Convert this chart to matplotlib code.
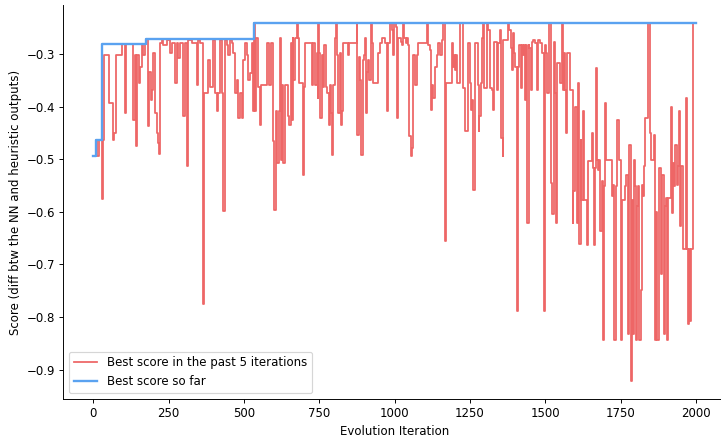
import matplotlib
matplotlib.use("Agg")
import matplotlib.pyplot as plt

# Best score in the past 5 iterations (change points, held until next point)
red_iter = [0, 9, 13, 18, 28, 31, 37, 53, 64, 70, 75, 94, 105, 108, 133, 138, 142, 146, 153, 155,
            160, 166, 170, 175, 180, 186, 190, 195, 199, 205, 210, 215, 218, 221, 227, 232, 243, 254, 260, 271,
            279, 282, 288, 299, 304, 310, 315, 326, 343, 349, 354, 363, 367, 382, 387, 398, 404, 409, 415, 420,
            426, 431, 437, 443, 448, 454, 459, 465, 470, 476, 481, 487, 492, 498, 503, 509, 514, 520, 525, 531,
            534, 537, 541, 548, 553, 557, 575, 584, 589, 595, 601, 606, 611, 615, 620, 622, 626, 631, 636, 647,
            651, 655, 658, 662, 664, 669, 675, 678, 684, 695, 699, 703, 725, 730, 736, 741, 745, 747, 750, 752,
            758, 761, 766, 772, 777, 781, 786, 789, 793, 797, 802, 805, 810, 813, 817, 821, 825, 830, 846, 850,
            874, 876, 881, 885, 888, 894, 898, 902, 905, 909, 913, 916, 920, 924, 927, 946, 951, 957, 968, 974,
            979, 985, 990, 996, 999, 1003, 1007, 1012, 1020, 1023, 1029, 1032, 1037, 1040, 1043, 1049, 1053, 1058, 1062, 1068,
            1073, 1079, 1106, 1112, 1117, 1121, 1124, 1128, 1134, 1139, 1145, 1151, 1156, 1162, 1167, 1171, 1189, 1193, 1197, 1200,
            1204, 1206, 1217, 1226, 1235, 1243, 1250, 1254, 1258, 1261, 1266, 1275, 1279, 1281, 1285, 1289, 1294, 1298, 1306, 1309,
            1317, 1322, 1328, 1331, 1339, 1344, 1350, 1353, 1358, 1361, 1377, 1381, 1385, 1388, 1392, 1396, 1401, 1405, 1410, 1414,
            1418, 1422, 1425, 1429, 1434, 1436, 1440, 1445, 1447, 1452, 1455, 1458, 1465, 1471, 1477, 1483, 1490, 1496, 1499, 1502,
            1507, 1511, 1519, 1523, 1528, 1532, 1536, 1540, 1549, 1554, 1558, 1562, 1567, 1569, 1573, 1582, 1591, 1593, 1599, 1604,
            1608, 1613, 1617, 1620, 1624, 1629, 1637, 1641, 1654, 1657, 1662, 1665, 1667, 1670, 1676, 1679, 1682, 1687, 1691, 1695,
            1698, 1702, 1720, 1726, 1729, 1735, 1739, 1744, 1750, 1755, 1765, 1768, 1776, 1779, 1783, 1787, 1790, 1795, 1798, 1801,
            1805, 1809, 1812, 1817, 1820, 1823, 1828, 1832, 1842, 1848, 1851, 1861, 1864, 1868, 1872, 1876, 1884, 1888, 1894, 1897,
            1901, 1905, 1908, 1916, 1919, 1923, 1927, 1932, 1936, 1939, 1943, 1947, 1950, 1958, 1968, 1971, 1975, 1978, 1980, 1983,
            1991, 1999]
red_score = [-0.495, -0.463, -0.495, -0.463, -0.576, -0.463, -0.302, -0.394, -0.463, -0.451, -0.302, -0.281, -0.413, -0.281, -0.425, -0.302, -0.476, -0.302, -0.356, -0.324,
             -0.281, -0.302, -0.281, -0.272, -0.438, -0.334, -0.387, -0.368, -0.299, -0.413, -0.451, -0.470, -0.490, -0.280, -0.273, -0.283, -0.273, -0.299, -0.280, -0.356,
             -0.280, -0.308, -0.280, -0.419, -0.280, -0.514, -0.273, -0.280, -0.359, -0.273, -0.280, -0.776, -0.375, -0.311, -0.362, -0.273, -0.375, -0.409, -0.375, -0.273,
             -0.375, -0.598, -0.273, -0.283, -0.302, -0.273, -0.280, -0.299, -0.375, -0.349, -0.422, -0.375, -0.422, -0.311, -0.280, -0.302, -0.349, -0.337, -0.280, -0.409,
             -0.242, -0.409, -0.270, -0.362, -0.435, -0.359, -0.280, -0.359, -0.280, -0.466, -0.597, -0.409, -0.507, -0.409, -0.270, -0.501, -0.359, -0.507, -0.359, -0.419,
             -0.435, -0.280, -0.425, -0.270, -0.349, -0.270, -0.242, -0.270, -0.356, -0.530, -0.362, -0.280, -0.359, -0.280, -0.359, -0.299, -0.384, -0.242, -0.299, -0.422,
             -0.302, -0.362, -0.283, -0.362, -0.375, -0.435, -0.359, -0.413, -0.492, -0.359, -0.270, -0.242, -0.302, -0.413, -0.299, -0.435, -0.409, -0.280, -0.302, -0.280,
             -0.242, -0.454, -0.305, -0.349, -0.492, -0.311, -0.302, -0.270, -0.413, -0.334, -0.311, -0.349, -0.242, -0.280, -0.356, -0.299, -0.280, -0.270, -0.280, -0.409,
             -0.280, -0.242, -0.254, -0.302, -0.242, -0.248, -0.422, -0.270, -0.277, -0.283, -0.242, -0.270, -0.280, -0.270, -0.283, -0.457, -0.495, -0.479, -0.302, -0.359,
             -0.302, -0.280, -0.242, -0.283, -0.292, -0.406, -0.359, -0.384, -0.324, -0.302, -0.280, -0.302, -0.273, -0.242, -0.656, -0.356, -0.280, -0.324, -0.302, -0.330,
             -0.302, -0.356, -0.242, -0.365, -0.447, -0.280, -0.356, -0.406, -0.387, -0.558, -0.280, -0.359, -0.447, -0.419, -0.356, -0.270, -0.242, -0.365, -0.242, -0.254,
             -0.365, -0.368, -0.406, -0.277, -0.368, -0.280, -0.254, -0.460, -0.495, -0.273, -0.242, -0.254, -0.289, -0.330, -0.261, -0.299, -0.324, -0.789, -0.324, -0.283,
             -0.365, -0.283, -0.302, -0.283, -0.387, -0.283, -0.621, -0.283, -0.289, -0.368, -0.277, -0.273, -0.280, -0.368, -0.273, -0.280, -0.299, -0.789, -0.283, -0.299,
             -0.375, -0.242, -0.545, -0.605, -0.277, -0.375, -0.621, -0.318, -0.356, -0.242, -0.368, -0.299, -0.368, -0.451, -0.299, -0.368, -0.621, -0.561, -0.400, -0.621,
             -0.356, -0.662, -0.463, -0.577, -0.409, -0.577, -0.663, -0.504, -0.451, -0.517, -0.663, -0.517, -0.327, -0.501, -0.520, -0.501, -0.637, -0.542, -0.843, -0.552,
             -0.394, -0.501, -0.571, -0.549, -0.843, -0.552, -0.425, -0.501, -0.843, -0.577, -0.552, -0.530, -0.833, -0.473, -0.922, -0.577, -0.833, -0.501, -0.552, -0.843,
             -0.590, -0.552, -0.843, -0.748, -0.549, -0.571, -0.514, -0.422, -0.242, -0.451, -0.501, -0.454, -0.843, -0.600, -0.843, -0.517, -0.719, -0.530, -0.833, -0.590,
             -0.574, -0.843, -0.574, -0.400, -0.602, -0.507, -0.552, -0.473, -0.549, -0.514, -0.409, -0.628, -0.514, -0.670, -0.384, -0.670, -0.814, -0.670, -0.808, -0.670,
             -0.242, -0.242]

# Best score so far (change points)
blue_iter = [0, 9, 29, 175, 533, 1999]
blue_score = [-0.495, -0.463, -0.281, -0.272, -0.242, -0.242]

red_label = "Best score in the past 5 iterations"
blue_label = "Best score so far"
x_label = "Evolution Iteration"
y_label = "Score (diff btw the NN and heuristic outputs)"

DPI = 85
fig = plt.figure(figsize=(721 / DPI, 440 / DPI), dpi=DPI)
ax = fig.add_axes([0.0877, 0.0932, 0.9189, 0.8955])

ax.plot(red_iter, red_score, drawstyle="steps-post", color="#ee6666", lw=1.5, label=red_label)
ax.plot(blue_iter, blue_score, drawstyle="steps-post", color="#5aa2f0", lw=2.0, label=blue_label)

ax.set_xlim(-99.95, 2098.95)
ax.set_ylim(-0.956, -0.207)
ax.set_xticks([0, 250, 500, 750, 1000, 1250, 1500, 1750, 2000])
ax.set_yticks([-0.9, -0.8, -0.7, -0.6, -0.5, -0.4, -0.3])
ax.set_xlabel(x_label, fontsize=10)
ax.set_ylabel(y_label, fontsize=10)
ax.tick_params(labelsize=10)
for s in ["top", "right"]:
    ax.spines[s].set_visible(False)
ax.legend(loc="lower left", fontsize=10)

fig.savefig("out.png", dpi=DPI)
